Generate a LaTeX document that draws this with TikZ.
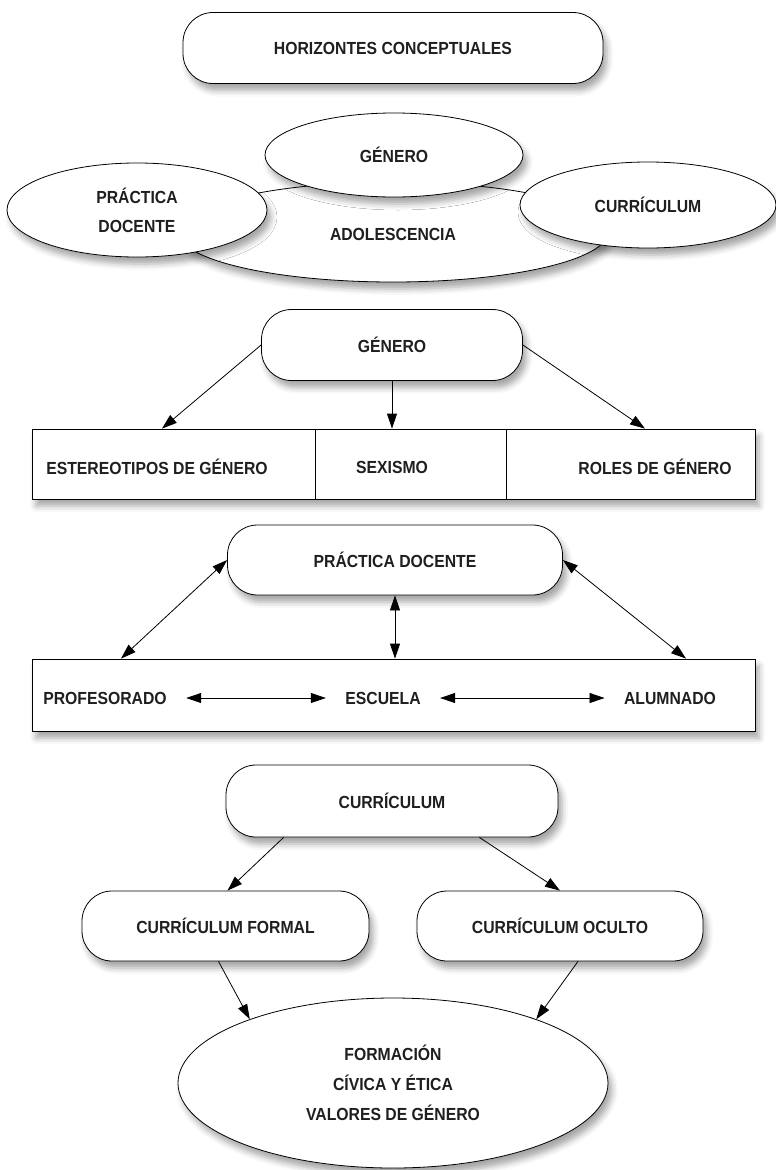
\documentclass[tikz,border=0pt]{standalone}
\usepackage{fontspec}
\setmainfont{Liberation Sans}[FakeStretch=0.9]
\usetikzlibrary{shapes.geometric,shadows.blur,arrows.meta}

\begin{document}
\begin{tikzpicture}[x=1pt,y=-1pt,
  every node/.style={font=\fontsize{17.5}{29}\selectfont\bfseries,text=black!88},
  sh/.style={blur shadow={shadow xshift=4pt,shadow yshift=-7pt,shadow blur radius=6pt,shadow opacity=35}},
  pill/.style={draw,fill=white,rounded corners=30pt,line width=0.8pt,sh},
  oval/.style={ellipse,draw,fill=white,inner sep=0pt,line width=0.8pt,sh},
  cell/.style={draw,fill=white,line width=0.8pt,inner sep=0pt,sh},
  arr/.style={-{Triangle[length=15pt,width=10pt]},line width=0.8pt},
  darr/.style={{Triangle[length=15pt,width=10pt]}-{Triangle[length=15pt,width=10pt]},line width=0.8pt}]
\useasboundingbox (0,0) rectangle (776,1170);

\node [pill,minimum width=420pt,minimum height=71pt] (hc) at (393,48) {HORIZONTES CONCEPTUALES};

\node [oval,minimum width=430pt,minimum height=100pt] (ado) at (393,232) {};
\node at (393,234) {ADOLESCENCIA};
\node [oval,minimum width=258pt,minimum height=84pt] (g1) at (394,155) {GÉNERO};
\node [oval,minimum width=260pt,minimum height=94pt,align=center] (p1) at (137,210) {PRÁCTICA\\DOCENTE};
\node [oval,minimum width=256pt,minimum height=86pt] (c1) at (648,205) {CURRÍCULUM};

\node [pill,minimum width=261pt,minimum height=71pt] (g2) at (392,345) {GÉNERO};
\node [cell,minimum width=723pt,minimum height=70pt] (tab) at (393.5,464) {};
\draw [line width=0.8pt] (315,429) -- (315,499) (506,429) -- (506,499);
\node (est) at (157,467) {ESTEREOTIPOS DE GÉNERO};
\node (sex) at (392,467) {SEXISMO};
\node (rol) at (655,467) {ROLES DE GÉNERO};
\draw [arr] (g2.west) -- ([xshift=5pt]est |- tab.north);
\draw [arr] (g2.south) -- (g2.south |- tab.north);
\draw [arr] (g2.east) -- ([xshift=-10pt]rol |- tab.north);

\node [pill,minimum width=335pt,minimum height=70pt] (p2) at (395,560) {PRÁCTICA DOCENTE};
\node [cell,minimum width=723pt,minimum height=72pt] (rec) at (393.5,695) {};
\node (pro) at (105,698) {PROFESORADO};
\node (esc) at (383,698) {ESCUELA};
\node (alu) at (670,698) {ALUMNADO};
\draw [darr,shorten <=16pt,shorten >=16pt] (pro) -- (esc);
\draw [darr,shorten <=16pt,shorten >=16pt] (esc) -- (alu);
\draw [darr] ([xshift=16pt]pro |- rec.north) -- (p2.west);
\draw [darr] (p2.south) -- (p2.south |- rec.north);
\draw [darr] ([xshift=16pt]alu |- rec.north) -- (p2.east);

\node [pill,minimum width=332pt,minimum height=72pt] (c2) at (392,801) {CURRÍCULUM};
\node [pill,minimum width=287pt,minimum height=70pt] (cf) at (225.5,926) {CURRÍCULUM FORMAL};
\node [pill,minimum width=286pt,minimum height=70pt] (co) at (560,926) {CURRÍCULUM OCULTO};
\node [oval,minimum width=430pt,minimum height=170pt,align=center,font=\fontsize{17.5}{30}\selectfont\bfseries] (fce) at (393,1083) {FORMACIÓN\\CÍVICA Y ÉTICA\\VALORES DE GÉNERO};
\draw [arr] ([xshift=58pt]c2.south west) -- ([xshift=2pt]cf.north);
\draw [arr] ([xshift=-79pt]c2.south east) -- (co.north);
\draw [arr] ([xshift=-7pt]cf.south) -- (fce.156);
\draw [arr] ([xshift=18pt]co.south) -- (fce.24);
\end{tikzpicture}
\end{document}
